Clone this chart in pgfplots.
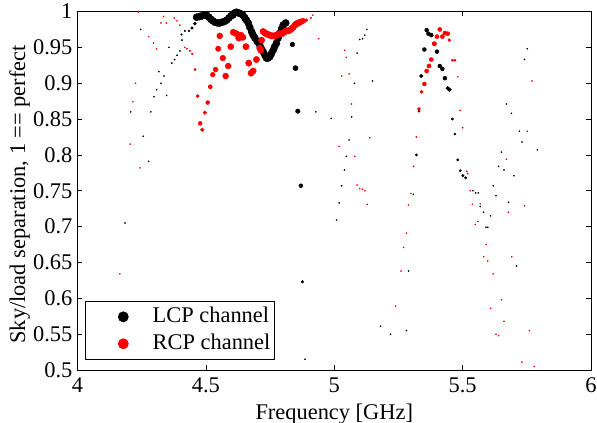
\documentclass[border=0pt]{standalone}
\usepackage{fontspec}
\setmainfont{Liberation Serif}
\usepackage{pgfplots}
\usepackage{pgfplotstable}
\pgfplotsset{compat=1.18}

\pgfplotstableread{
x y s
4.185 0.705 0.6
4.207 0.860 0.6
4.286 0.860 0.6
4.256 0.826 0.6
4.277 0.791 0.6
4.246 0.975 0.6
4.298 0.881 0.6
4.308 0.891 0.6
4.325 0.900 0.6
4.347 0.883 0.6
4.317 0.916 0.6
4.337 0.910 0.6
4.356 0.950 0.6
4.367 0.928 0.7
4.378 0.933 0.7
4.388 0.939 0.7
4.399 0.945 0.7
4.407 0.960 0.7
4.405 0.968 0.8
4.418 0.973 0.9
4.434 0.973 1.0
4.446 0.977 1.3
4.457 0.983 1.6
4.464 0.992 3.6
4.475 0.993 3.6
4.485 0.994 3.6
4.495 0.995 3.6
4.503 0.995 3.6
4.512 0.992 3.6
4.520 0.989 3.6
4.527 0.987 3.6
4.535 0.985 3.6
4.545 0.984 3.6
4.554 0.984 3.6
4.563 0.985 3.6
4.572 0.986 3.6
4.581 0.988 3.6
4.590 0.991 3.6
4.598 0.994 3.6
4.605 0.995 3.6
4.612 0.998 3.6
4.619 0.999 3.6
4.627 0.998 3.6
4.635 0.997 3.6
4.644 0.995 3.6
4.652 0.991 3.6
4.658 0.988 3.6
4.665 0.984 3.6
4.671 0.978 3.6
4.678 0.972 3.6
4.684 0.967 3.6
4.691 0.963 3.6
4.700 0.958 3.6
4.710 0.953 3.6
4.716 0.948 3.6
4.723 0.944 3.6
4.730 0.939 3.6
4.736 0.935 3.6
4.742 0.935 3.6
4.749 0.937 3.6
4.755 0.941 3.6
4.762 0.946 3.6
4.768 0.951 3.6
4.775 0.956 3.6
4.781 0.963 3.6
4.788 0.970 3.6
4.795 0.976 3.6
4.801 0.981 3.6
4.811 0.984 3.6
4.837 0.954 2.4
4.849 0.921 2.6
4.858 0.861 2.3
4.870 0.757 2.0
4.876 0.623 1.4
4.886 0.515 0.6
4.928 0.860 0.6
4.988 0.851 0.6
5.068 0.853 0.6
5.127 0.975 0.6
5.119 0.967 0.6
5.110 0.962 0.6
5.099 0.961 0.6
5.089 0.942 0.6
5.079 0.900 0.6
5.149 0.903 0.6
5.058 0.821 0.6
5.047 0.798 0.6
5.040 0.779 0.6
5.029 0.757 0.7
5.019 0.733 0.6
5.009 0.709 0.6
5.180 0.561 0.6
5.219 0.550 0.6
5.281 0.555 0.6
5.289 0.638 0.6
5.360 0.974 2.0
5.367 0.969 2.0
5.378 0.967 2.0
5.390 0.955 2.0
5.351 0.947 2.0
5.400 0.944 2.0
5.339 0.910 1.9
5.411 0.924 2.0
5.421 0.920 2.0
5.431 0.907 2.0
5.442 0.893 1.9
5.449 0.891 1.9
5.330 0.861 1.1
5.460 0.850 1.2
5.470 0.829 1.1
5.320 0.800 1.2
5.481 0.793 1.2
5.491 0.778 1.2
5.501 0.771 1.3
5.512 0.768 1.3
5.308 0.745 0.6
5.752 0.948 0.6
5.741 0.933 0.6
5.671 0.871 0.6
5.690 0.858 0.6
5.721 0.833 0.6
5.731 0.818 0.6
5.791 0.807 0.6
5.651 0.804 0.6
5.640 0.784 0.6
5.661 0.779 0.6
5.700 0.771 0.6
5.619 0.757 0.6
5.630 0.743 0.6
5.540 0.750 0.6
5.551 0.747 0.6
5.561 0.747 0.6
5.679 0.734 0.6
5.569 0.728 0.6
5.581 0.720 0.6
5.609 0.715 0.6
5.591 0.699 0.6
5.598 0.699 0.6
5.710 0.645 0.6
}\lcp

\pgfplotstableread{
x y s
4.165 0.634 0.6
4.205 0.815 0.6
4.244 0.782 0.6
4.216 0.874 0.6
4.226 0.900 0.6
4.237 0.999 0.6
4.277 0.965 0.6
4.296 0.956 0.6
4.308 0.948 0.6
4.335 0.993 0.6
4.325 0.984 0.6
4.346 0.984 0.6
4.377 0.991 0.6
4.387 0.987 0.6
4.399 0.981 0.6
4.418 0.950 0.6
4.426 0.948 0.7
4.438 0.945 0.8
4.447 0.941 1.0
4.458 0.919 1.2
4.468 0.882 1.7
4.478 0.844 2.0
4.486 0.835 1.9
4.496 0.859 1.9
4.507 0.873 2.0
4.517 0.895 2.1
4.527 0.912 2.4
4.538 0.919 2.5
4.548 0.948 2.7
4.554 0.966 3.0
4.566 0.935 2.9
4.577 0.910 3.0
4.587 0.924 3.0
4.597 0.951 3.1
4.607 0.971 3.2
4.619 0.969 3.2
4.628 0.963 3.2
4.636 0.967 3.2
4.644 0.964 3.2
4.656 0.951 3.2
4.667 0.928 3.2
4.676 0.914 3.2
4.684 0.917 3.2
4.697 0.933 3.2
4.710 0.949 3.2
4.714 0.946 3.2
4.717 0.960 3.2
4.723 0.972 3.2
4.730 0.970 3.2
4.736 0.969 3.2
4.742 0.968 3.2
4.749 0.967 3.2
4.755 0.966 3.2
4.762 0.966 3.2
4.768 0.966 3.2
4.775 0.967 3.2
4.781 0.968 3.2
4.788 0.969 3.2
4.795 0.969 3.2
4.801 0.970 3.2
4.808 0.972 3.2
4.814 0.973 3.2
4.820 0.973 3.2
4.827 0.974 3.2
4.834 0.976 3.2
4.840 0.978 3.2
4.847 0.981 3.2
4.853 0.983 3.2
4.860 0.984 3.2
4.866 0.985 3.1
4.872 0.986 2.9
4.879 0.987 2.6
4.892 0.988 1.5
4.909 0.991 0.8
4.917 0.995 0.6
4.940 0.962 0.6
5.041 0.946 0.6
5.047 0.936 0.6
5.058 0.913 0.6
5.029 0.910 0.6
5.067 0.871 0.6
5.138 0.824 0.6
5.019 0.812 0.6
5.080 0.798 0.6
5.089 0.758 0.6
5.099 0.753 0.6
5.110 0.752 0.6
5.120 0.750 0.6
5.128 0.731 0.6
5.289 0.730 0.6
5.281 0.691 0.6
5.270 0.671 0.6
5.260 0.638 0.6
5.239 0.589 0.6
5.411 0.975 2.1
5.431 0.970 2.1
5.442 0.969 2.1
5.400 0.965 2.1
5.421 0.965 2.1
5.448 0.960 1.5
5.390 0.955 2.1
5.378 0.933 2.1
5.460 0.932 1.2
5.470 0.932 1.2
5.369 0.924 2.1
5.360 0.917 2.1
5.481 0.909 0.7
5.351 0.899 2.0
5.340 0.888 1.7
5.330 0.864 1.6
5.490 0.862 0.7
5.500 0.838 0.7
5.320 0.825 0.7
5.309 0.784 0.7
5.516 0.777 0.7
5.520 0.774 0.7
5.298 0.746 0.6
5.770 0.903 0.6
5.752 0.833 0.6
5.671 0.794 0.6
5.530 0.750 0.6
5.741 0.729 0.6
5.538 0.731 0.6
5.569 0.732 0.6
5.679 0.720 0.6
5.560 0.707 0.6
5.549 0.703 0.6
5.592 0.675 0.6
5.582 0.658 0.6
5.598 0.652 0.6
5.691 0.658 0.6
5.619 0.634 0.6
5.651 0.598 0.6
5.609 0.586 0.6
5.661 0.568 0.6
5.760 0.555 0.6
5.630 0.550 0.6
5.640 0.548 0.6
5.731 0.511 0.6
5.779 0.505 0.6
}\rcp

\begin{document}
\fontsize{22.5}{27}\selectfont
\begin{tikzpicture}
\begin{axis}[
  name=a,
  width=513.5bp, height=358.5bp, scale only axis,
  xmin=4, xmax=6, ymin=0.5, ymax=1,
  xtick={4,4.5,5,5.5,6}, xticklabels={4,4.5,5,5.5,6},
  ytick={0.5,0.55,0.6,0.65,0.7,0.75,0.8,0.85,0.9,0.95,1},
  yticklabels={0.5,0.55,0.6,0.65,0.7,0.75,0.8,0.85,0.9,0.95,1},
  /pgf/number format/assume math mode=true,
  tick align=inside, major tick length=5bp,
  axis line style={line width=0.8bp, black},
  every tick/.style={black, line width=0.6bp},
  yticklabel style={xshift=2.5bp},
  xlabel={Frequency [GHz]},
  ylabel={Sky/load separation, 1 == perfect},
  xlabel style={at={(axis description cs:0.5,-0.1367)}, anchor=base},
  ylabel style={at={(axis description cs:-0.1022,0.49)}, anchor=base, rotate=0},
  legend style={at={(0,0)}, anchor=south west, xshift=8bp, yshift=10bp,
    draw=black, line width=0.8bp, inner xsep=2bp, inner ysep=4.4bp,
    cells={anchor=west}, row sep=4bp},
  legend cell align=left,
]
\addplot[scatter, only marks, mark=*, forget plot,
  scatter/use mapped color={draw=black, fill=black},
  visualization depends on={\thisrow{s} \as \msz},
  scatter/@pre marker code/.append style={/tikz/mark size=\msz}]
  table[x=x, y=y] {\lcp};
\addplot[scatter, only marks, mark=*, forget plot,
  scatter/use mapped color={draw=red, fill=red},
  visualization depends on={\thisrow{s} \as \msz},
  scatter/@pre marker code/.append style={/tikz/mark size=\msz}]
  table[x=x, y=y] {\rcp};
\addlegendimage{legend image code/.code={\path (0,0) (62bp,0); \fill[black] (35bp,0) circle[radius=5bp];}}
\addlegendentry{LCP channel}
\addlegendimage{legend image code/.code={\path (0,0) (62bp,0); \fill[red] (35bp,0) circle[radius=5bp];}}
\addlegendentry{RCP channel}
\end{axis}
\pgfresetboundingbox
\path ([shift={(-77.5bp,-53bp)}]a.south west) rectangle ([shift={(6bp,11.5bp)}]a.north east);
\end{tikzpicture}
\end{document}
